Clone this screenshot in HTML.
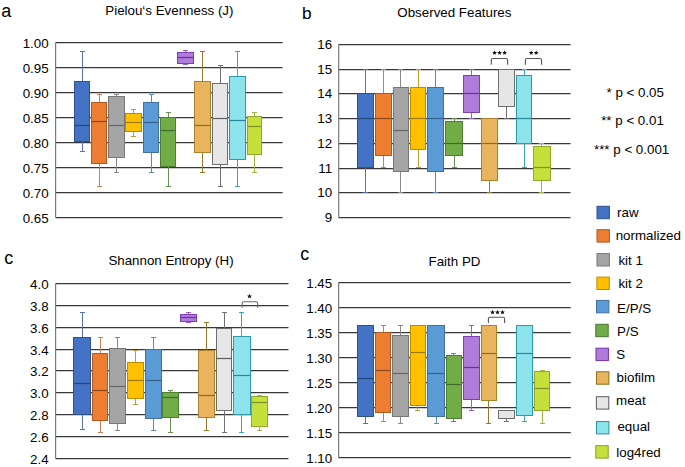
<!DOCTYPE html>
<html><head><meta charset="utf-8"><style>
html,body{margin:0;padding:0;background:#fff;width:685px;height:467px;overflow:hidden}
svg{display:block}
text{font-family:"Liberation Sans", sans-serif}
</style></head><body>
<svg width="685" height="467" viewBox="0 0 685 467" font-family='"Liberation Sans", sans-serif'>
<rect width="685" height="467" fill="#fff"/>
<line x1="55.6" y1="42.5" x2="282.6" y2="42.5" stroke="#383838" stroke-width="1.25"/>
<line x1="55.6" y1="67.5" x2="282.6" y2="67.5" stroke="#383838" stroke-width="1.25"/>
<line x1="55.6" y1="92.5" x2="282.6" y2="92.5" stroke="#383838" stroke-width="1.25"/>
<line x1="55.6" y1="117.5" x2="282.6" y2="117.5" stroke="#383838" stroke-width="1.25"/>
<line x1="55.6" y1="142.5" x2="282.6" y2="142.5" stroke="#383838" stroke-width="1.25"/>
<line x1="55.6" y1="167.5" x2="282.6" y2="167.5" stroke="#383838" stroke-width="1.25"/>
<line x1="55.6" y1="192.5" x2="282.6" y2="192.5" stroke="#383838" stroke-width="1.25"/>
<line x1="55.6" y1="217.5" x2="282.6" y2="217.5" stroke="#383838" stroke-width="1.25"/>
<line x1="55.6" y1="42.5" x2="55.6" y2="217.5" stroke="#7a7a7a" stroke-width="1.2"/>
<text x="48.6" y="47.8" font-size="13.33" text-anchor="end" fill="#000">1.00</text>
<text x="48.6" y="72.8" font-size="13.33" text-anchor="end" fill="#000">0.95</text>
<text x="48.6" y="97.8" font-size="13.33" text-anchor="end" fill="#000">0.90</text>
<text x="48.6" y="122.8" font-size="13.33" text-anchor="end" fill="#000">0.85</text>
<text x="48.6" y="147.8" font-size="13.33" text-anchor="end" fill="#000">0.80</text>
<text x="48.6" y="172.8" font-size="13.33" text-anchor="end" fill="#000">0.75</text>
<text x="48.6" y="197.8" font-size="13.33" text-anchor="end" fill="#000">0.70</text>
<text x="48.6" y="222.8" font-size="13.33" text-anchor="end" fill="#000">0.65</text>
<line x1="82.5" y1="51.5" x2="82.5" y2="81.5" stroke="#5873a8" stroke-width="1"/>
<line x1="80.0" y1="51.5" x2="85.0" y2="51.5" stroke="#5873a8" stroke-width="1"/>
<line x1="82.5" y1="141.5" x2="82.5" y2="151.5" stroke="#5873a8" stroke-width="1"/>
<line x1="80.0" y1="151.5" x2="85.0" y2="151.5" stroke="#5873a8" stroke-width="1"/>
<rect x="74.5" y="81.5" width="15" height="60" fill="#4472C4" stroke="#2F528F" stroke-width="1"/>
<line x1="74.5" y1="125.5" x2="89.5" y2="125.5" stroke="#24467f" stroke-width="1.2"/>
<line x1="99.5" y1="94.5" x2="99.5" y2="102.5" stroke="#c3835c" stroke-width="1"/>
<line x1="97.0" y1="94.5" x2="102.0" y2="94.5" stroke="#c3835c" stroke-width="1"/>
<line x1="99.5" y1="163.5" x2="99.5" y2="186.5" stroke="#c3835c" stroke-width="1"/>
<line x1="97.0" y1="186.5" x2="102.0" y2="186.5" stroke="#c3835c" stroke-width="1"/>
<rect x="91.5" y="102.5" width="15" height="61" fill="#ED7D31" stroke="#AE5A21" stroke-width="1"/>
<line x1="91.5" y1="121.5" x2="106.5" y2="121.5" stroke="#8e4818" stroke-width="1.2"/>
<line x1="116.5" y1="94.5" x2="116.5" y2="96.5" stroke="#888888" stroke-width="1"/>
<line x1="114.0" y1="94.5" x2="119.0" y2="94.5" stroke="#888888" stroke-width="1"/>
<line x1="116.5" y1="157.5" x2="116.5" y2="172.5" stroke="#888888" stroke-width="1"/>
<line x1="114.0" y1="172.5" x2="119.0" y2="172.5" stroke="#888888" stroke-width="1"/>
<rect x="108.5" y="96.5" width="16" height="61" fill="#A5A5A5" stroke="#787878" stroke-width="1"/>
<line x1="108.5" y1="125.5" x2="124.5" y2="125.5" stroke="#666666" stroke-width="1.2"/>
<line x1="133.5" y1="109.5" x2="133.5" y2="113.5" stroke="#c49a2a" stroke-width="1"/>
<line x1="131.0" y1="109.5" x2="136.0" y2="109.5" stroke="#c49a2a" stroke-width="1"/>
<line x1="133.5" y1="131.5" x2="133.5" y2="136.5" stroke="#c49a2a" stroke-width="1"/>
<line x1="131.0" y1="136.5" x2="136.0" y2="136.5" stroke="#c49a2a" stroke-width="1"/>
<rect x="125.5" y="113.5" width="16" height="18" fill="#FFC000" stroke="#BC8C00" stroke-width="1"/>
<line x1="125.5" y1="122.5" x2="141.5" y2="122.5" stroke="#a07800" stroke-width="1.2"/>
<line x1="151.5" y1="94.5" x2="151.5" y2="102.5" stroke="#5a88b8" stroke-width="1"/>
<line x1="149.0" y1="94.5" x2="154.0" y2="94.5" stroke="#5a88b8" stroke-width="1"/>
<line x1="151.5" y1="152.5" x2="151.5" y2="172.5" stroke="#5a88b8" stroke-width="1"/>
<line x1="149.0" y1="172.5" x2="154.0" y2="172.5" stroke="#5a88b8" stroke-width="1"/>
<rect x="143.5" y="102.5" width="15" height="50" fill="#5B9BD5" stroke="#41719C" stroke-width="1"/>
<line x1="143.5" y1="122.5" x2="158.5" y2="122.5" stroke="#33628e" stroke-width="1.2"/>
<line x1="168.5" y1="112.5" x2="168.5" y2="117.5" stroke="#6b8e52" stroke-width="1"/>
<line x1="166.0" y1="112.5" x2="171.0" y2="112.5" stroke="#6b8e52" stroke-width="1"/>
<line x1="168.5" y1="166.5" x2="168.5" y2="186.5" stroke="#6b8e52" stroke-width="1"/>
<line x1="166.0" y1="186.5" x2="171.0" y2="186.5" stroke="#6b8e52" stroke-width="1"/>
<rect x="160.5" y="117.5" width="15" height="49" fill="#70AD47" stroke="#507E32" stroke-width="1"/>
<line x1="160.5" y1="130.5" x2="175.5" y2="130.5" stroke="#3f6a28" stroke-width="1.2"/>
<line x1="185.5" y1="50.5" x2="185.5" y2="52.5" stroke="#9a5ad0" stroke-width="1"/>
<line x1="183.0" y1="50.5" x2="188.0" y2="50.5" stroke="#9a5ad0" stroke-width="1"/>
<line x1="185.5" y1="63.5" x2="185.5" y2="64.5" stroke="#9a5ad0" stroke-width="1"/>
<line x1="183.0" y1="64.5" x2="188.0" y2="64.5" stroke="#9a5ad0" stroke-width="1"/>
<rect x="177.5" y="52.5" width="16" height="11" fill="#B07CDA" stroke="#7E3FB4" stroke-width="1"/>
<line x1="177.5" y1="57.5" x2="193.5" y2="57.5" stroke="#6a30a0" stroke-width="1.2"/>
<line x1="202.5" y1="51.5" x2="202.5" y2="81.5" stroke="#98782a" stroke-width="1"/>
<line x1="200.0" y1="51.5" x2="205.0" y2="51.5" stroke="#98782a" stroke-width="1"/>
<line x1="202.5" y1="152.5" x2="202.5" y2="172.5" stroke="#98782a" stroke-width="1"/>
<line x1="200.0" y1="172.5" x2="205.0" y2="172.5" stroke="#98782a" stroke-width="1"/>
<rect x="194.5" y="81.5" width="16" height="71" fill="#E8B55E" stroke="#A8832A" stroke-width="1"/>
<line x1="194.5" y1="125.5" x2="210.5" y2="125.5" stroke="#8e6c1e" stroke-width="1.2"/>
<line x1="220.5" y1="65.5" x2="220.5" y2="83.5" stroke="#707070" stroke-width="1"/>
<line x1="218.0" y1="65.5" x2="223.0" y2="65.5" stroke="#707070" stroke-width="1"/>
<line x1="220.5" y1="164.5" x2="220.5" y2="186.5" stroke="#707070" stroke-width="1"/>
<line x1="218.0" y1="186.5" x2="223.0" y2="186.5" stroke="#707070" stroke-width="1"/>
<rect x="212.5" y="83.5" width="15" height="81" fill="#E6E6E6" stroke="#6E6E6E" stroke-width="1"/>
<line x1="212.5" y1="118.5" x2="227.5" y2="118.5" stroke="#606060" stroke-width="1.2"/>
<line x1="237.5" y1="51.5" x2="237.5" y2="76.5" stroke="#3fa6b6" stroke-width="1"/>
<line x1="235.0" y1="51.5" x2="240.0" y2="51.5" stroke="#3fa6b6" stroke-width="1"/>
<line x1="237.5" y1="159.5" x2="237.5" y2="186.5" stroke="#3fa6b6" stroke-width="1"/>
<line x1="235.0" y1="186.5" x2="240.0" y2="186.5" stroke="#3fa6b6" stroke-width="1"/>
<rect x="229.5" y="76.5" width="16" height="83" fill="#8DE3EB" stroke="#2E9AA8" stroke-width="1"/>
<line x1="229.5" y1="120.5" x2="245.5" y2="120.5" stroke="#23899a" stroke-width="1.2"/>
<line x1="254.5" y1="112.5" x2="254.5" y2="116.5" stroke="#a3b445" stroke-width="1"/>
<line x1="252.0" y1="112.5" x2="257.0" y2="112.5" stroke="#a3b445" stroke-width="1"/>
<line x1="254.5" y1="154.5" x2="254.5" y2="172.5" stroke="#a3b445" stroke-width="1"/>
<line x1="252.0" y1="172.5" x2="257.0" y2="172.5" stroke="#a3b445" stroke-width="1"/>
<rect x="247.5" y="116.5" width="14" height="38" fill="#C5E03A" stroke="#93A72A" stroke-width="1"/>
<line x1="247.5" y1="126.5" x2="261.5" y2="126.5" stroke="#7f9220" stroke-width="1.2"/>
<line x1="338.7" y1="44.5" x2="570.5" y2="44.5" stroke="#383838" stroke-width="1.25"/>
<line x1="338.7" y1="69.5" x2="570.5" y2="69.5" stroke="#383838" stroke-width="1.25"/>
<line x1="338.7" y1="93.5" x2="570.5" y2="93.5" stroke="#383838" stroke-width="1.25"/>
<line x1="338.7" y1="118.5" x2="570.5" y2="118.5" stroke="#383838" stroke-width="1.25"/>
<line x1="338.7" y1="143.5" x2="570.5" y2="143.5" stroke="#383838" stroke-width="1.25"/>
<line x1="338.7" y1="168.5" x2="570.5" y2="168.5" stroke="#383838" stroke-width="1.25"/>
<line x1="338.7" y1="192.5" x2="570.5" y2="192.5" stroke="#383838" stroke-width="1.25"/>
<line x1="338.7" y1="217.5" x2="570.5" y2="217.5" stroke="#383838" stroke-width="1.25"/>
<line x1="338.7" y1="44.5" x2="338.7" y2="217.5" stroke="#7a7a7a" stroke-width="1.2"/>
<text x="332.2" y="49.0" font-size="13.33" text-anchor="end" fill="#000">16</text>
<text x="332.2" y="74.0" font-size="13.33" text-anchor="end" fill="#000">15</text>
<text x="332.2" y="98.0" font-size="13.33" text-anchor="end" fill="#000">14</text>
<text x="332.2" y="123.0" font-size="13.33" text-anchor="end" fill="#000">13</text>
<text x="332.2" y="148.0" font-size="13.33" text-anchor="end" fill="#000">12</text>
<text x="332.2" y="173.0" font-size="13.33" text-anchor="end" fill="#000">11</text>
<text x="332.2" y="197.0" font-size="13.33" text-anchor="end" fill="#000">10</text>
<text x="332.2" y="222.0" font-size="13.33" text-anchor="end" fill="#000">9</text>
<line x1="365.5" y1="69.5" x2="365.5" y2="93.5" stroke="#5873a8" stroke-width="1"/>
<line x1="363.0" y1="69.5" x2="368.0" y2="69.5" stroke="#5873a8" stroke-width="1"/>
<line x1="365.5" y1="167.5" x2="365.5" y2="192.5" stroke="#5873a8" stroke-width="1"/>
<line x1="363.0" y1="192.5" x2="368.0" y2="192.5" stroke="#5873a8" stroke-width="1"/>
<rect x="357.5" y="93.5" width="16" height="74" fill="#4472C4" stroke="#2F528F" stroke-width="1"/>
<line x1="357.5" y1="118.5" x2="373.5" y2="118.5" stroke="#24467f" stroke-width="1.2"/>
<line x1="383.5" y1="69.5" x2="383.5" y2="93.5" stroke="#c3835c" stroke-width="1"/>
<line x1="381.0" y1="69.5" x2="386.0" y2="69.5" stroke="#c3835c" stroke-width="1"/>
<line x1="383.5" y1="155.5" x2="383.5" y2="167.5" stroke="#c3835c" stroke-width="1"/>
<line x1="381.0" y1="167.5" x2="386.0" y2="167.5" stroke="#c3835c" stroke-width="1"/>
<rect x="375.5" y="93.5" width="16" height="62" fill="#ED7D31" stroke="#AE5A21" stroke-width="1"/>
<line x1="375.5" y1="118.5" x2="391.5" y2="118.5" stroke="#8e4818" stroke-width="1.2"/>
<line x1="400.5" y1="69.5" x2="400.5" y2="87.5" stroke="#888888" stroke-width="1"/>
<line x1="398.0" y1="69.5" x2="403.0" y2="69.5" stroke="#888888" stroke-width="1"/>
<line x1="400.5" y1="171.5" x2="400.5" y2="192.5" stroke="#888888" stroke-width="1"/>
<line x1="398.0" y1="192.5" x2="403.0" y2="192.5" stroke="#888888" stroke-width="1"/>
<rect x="393.5" y="87.5" width="15" height="84" fill="#A5A5A5" stroke="#787878" stroke-width="1"/>
<line x1="393.5" y1="130.5" x2="408.5" y2="130.5" stroke="#666666" stroke-width="1.2"/>
<line x1="418.5" y1="69.5" x2="418.5" y2="87.5" stroke="#c49a2a" stroke-width="1"/>
<line x1="416.0" y1="69.5" x2="421.0" y2="69.5" stroke="#c49a2a" stroke-width="1"/>
<line x1="418.5" y1="149.5" x2="418.5" y2="167.5" stroke="#c49a2a" stroke-width="1"/>
<line x1="416.0" y1="167.5" x2="421.0" y2="167.5" stroke="#c49a2a" stroke-width="1"/>
<rect x="410.5" y="87.5" width="15" height="62" fill="#FFC000" stroke="#BC8C00" stroke-width="1"/>
<line x1="410.5" y1="118.5" x2="425.5" y2="118.5" stroke="#a07800" stroke-width="1.2"/>
<line x1="435.5" y1="69.5" x2="435.5" y2="87.5" stroke="#5a88b8" stroke-width="1"/>
<line x1="433.0" y1="69.5" x2="438.0" y2="69.5" stroke="#5a88b8" stroke-width="1"/>
<line x1="435.5" y1="171.5" x2="435.5" y2="192.5" stroke="#5a88b8" stroke-width="1"/>
<line x1="433.0" y1="192.5" x2="438.0" y2="192.5" stroke="#5a88b8" stroke-width="1"/>
<rect x="427.5" y="87.5" width="16" height="84" fill="#5B9BD5" stroke="#41719C" stroke-width="1"/>
<line x1="427.5" y1="118.5" x2="443.5" y2="118.5" stroke="#33628e" stroke-width="1.2"/>
<line x1="454.5" y1="118.5" x2="454.5" y2="121.5" stroke="#6b8e52" stroke-width="1"/>
<line x1="452.0" y1="118.5" x2="457.0" y2="118.5" stroke="#6b8e52" stroke-width="1"/>
<line x1="454.5" y1="155.5" x2="454.5" y2="167.5" stroke="#6b8e52" stroke-width="1"/>
<line x1="452.0" y1="167.5" x2="457.0" y2="167.5" stroke="#6b8e52" stroke-width="1"/>
<rect x="445.5" y="121.5" width="17" height="34" fill="#70AD47" stroke="#507E32" stroke-width="1"/>
<line x1="445.5" y1="143.5" x2="462.5" y2="143.5" stroke="#3f6a28" stroke-width="1.2"/>
<line x1="471.5" y1="69.5" x2="471.5" y2="75.5" stroke="#9a5ad0" stroke-width="1"/>
<line x1="469.0" y1="69.5" x2="474.0" y2="69.5" stroke="#9a5ad0" stroke-width="1"/>
<line x1="471.5" y1="112.5" x2="471.5" y2="118.5" stroke="#9a5ad0" stroke-width="1"/>
<line x1="469.0" y1="118.5" x2="474.0" y2="118.5" stroke="#9a5ad0" stroke-width="1"/>
<rect x="463.5" y="75.5" width="16" height="37" fill="#B07CDA" stroke="#7E3FB4" stroke-width="1"/>
<line x1="463.5" y1="93.5" x2="479.5" y2="93.5" stroke="#6a30a0" stroke-width="1.2"/>
<line x1="489.5" y1="180.5" x2="489.5" y2="192.5" stroke="#98782a" stroke-width="1"/>
<line x1="487.0" y1="192.5" x2="492.0" y2="192.5" stroke="#98782a" stroke-width="1"/>
<rect x="481.5" y="118.5" width="16" height="62" fill="#E8B55E" stroke="#A8832A" stroke-width="1"/>
<line x1="481.5" y1="143.5" x2="497.5" y2="143.5" stroke="#8e6c1e" stroke-width="1.2"/>
<line x1="506.5" y1="106.5" x2="506.5" y2="118.5" stroke="#707070" stroke-width="1"/>
<line x1="504.0" y1="118.5" x2="509.0" y2="118.5" stroke="#707070" stroke-width="1"/>
<rect x="498.5" y="69.5" width="16" height="37" fill="#E6E6E6" stroke="#6E6E6E" stroke-width="1"/>
<line x1="524.5" y1="69.5" x2="524.5" y2="75.5" stroke="#3fa6b6" stroke-width="1"/>
<line x1="522.0" y1="69.5" x2="527.0" y2="69.5" stroke="#3fa6b6" stroke-width="1"/>
<line x1="524.5" y1="143.5" x2="524.5" y2="167.5" stroke="#3fa6b6" stroke-width="1"/>
<line x1="522.0" y1="167.5" x2="527.0" y2="167.5" stroke="#3fa6b6" stroke-width="1"/>
<rect x="516.5" y="75.5" width="15" height="68" fill="#8DE3EB" stroke="#2E9AA8" stroke-width="1"/>
<line x1="516.5" y1="118.5" x2="531.5" y2="118.5" stroke="#23899a" stroke-width="1.2"/>
<line x1="541.5" y1="143.5" x2="541.5" y2="146.5" stroke="#a3b445" stroke-width="1"/>
<line x1="539.0" y1="143.5" x2="544.0" y2="143.5" stroke="#a3b445" stroke-width="1"/>
<line x1="541.5" y1="180.5" x2="541.5" y2="192.5" stroke="#a3b445" stroke-width="1"/>
<line x1="539.0" y1="192.5" x2="544.0" y2="192.5" stroke="#a3b445" stroke-width="1"/>
<rect x="533.5" y="146.5" width="17" height="34" fill="#C5E03A" stroke="#93A72A" stroke-width="1"/>
<line x1="533.5" y1="167.5" x2="550.5" y2="167.5" stroke="#7f9220" stroke-width="1.2"/>
<line x1="55.6" y1="283.5" x2="288.5" y2="283.5" stroke="#383838" stroke-width="1.25"/>
<line x1="55.6" y1="305.5" x2="288.5" y2="305.5" stroke="#383838" stroke-width="1.25"/>
<line x1="55.6" y1="327.5" x2="288.5" y2="327.5" stroke="#383838" stroke-width="1.25"/>
<line x1="55.6" y1="349.5" x2="288.5" y2="349.5" stroke="#383838" stroke-width="1.25"/>
<line x1="55.6" y1="370.5" x2="288.5" y2="370.5" stroke="#383838" stroke-width="1.25"/>
<line x1="55.6" y1="392.5" x2="288.5" y2="392.5" stroke="#383838" stroke-width="1.25"/>
<line x1="55.6" y1="414.5" x2="288.5" y2="414.5" stroke="#383838" stroke-width="1.25"/>
<line x1="55.6" y1="436.5" x2="288.5" y2="436.5" stroke="#383838" stroke-width="1.25"/>
<line x1="55.6" y1="458.5" x2="288.5" y2="458.5" stroke="#383838" stroke-width="1.25"/>
<line x1="55.6" y1="283.5" x2="55.6" y2="458.5" stroke="#7a7a7a" stroke-width="1.2"/>
<text x="48.6" y="288.8" font-size="13.33" text-anchor="end" fill="#000">4.0</text>
<text x="48.6" y="310.8" font-size="13.33" text-anchor="end" fill="#000">3.8</text>
<text x="48.6" y="332.8" font-size="13.33" text-anchor="end" fill="#000">3.6</text>
<text x="48.6" y="354.8" font-size="13.33" text-anchor="end" fill="#000">3.4</text>
<text x="48.6" y="375.8" font-size="13.33" text-anchor="end" fill="#000">3.2</text>
<text x="48.6" y="397.8" font-size="13.33" text-anchor="end" fill="#000">3.0</text>
<text x="48.6" y="419.8" font-size="13.33" text-anchor="end" fill="#000">2.8</text>
<text x="48.6" y="441.8" font-size="13.33" text-anchor="end" fill="#000">2.6</text>
<text x="48.6" y="463.8" font-size="13.33" text-anchor="end" fill="#000">2.4</text>
<line x1="82.5" y1="312.5" x2="82.5" y2="337.5" stroke="#5873a8" stroke-width="1"/>
<line x1="80.0" y1="312.5" x2="85.0" y2="312.5" stroke="#5873a8" stroke-width="1"/>
<line x1="82.5" y1="414.5" x2="82.5" y2="429.5" stroke="#5873a8" stroke-width="1"/>
<line x1="80.0" y1="429.5" x2="85.0" y2="429.5" stroke="#5873a8" stroke-width="1"/>
<rect x="73.5" y="337.5" width="17" height="77" fill="#4472C4" stroke="#2F528F" stroke-width="1"/>
<line x1="73.5" y1="383.5" x2="90.5" y2="383.5" stroke="#24467f" stroke-width="1.2"/>
<line x1="100.5" y1="337.5" x2="100.5" y2="353.5" stroke="#c3835c" stroke-width="1"/>
<line x1="98.0" y1="337.5" x2="103.0" y2="337.5" stroke="#c3835c" stroke-width="1"/>
<line x1="100.5" y1="420.5" x2="100.5" y2="432.5" stroke="#c3835c" stroke-width="1"/>
<line x1="98.0" y1="432.5" x2="103.0" y2="432.5" stroke="#c3835c" stroke-width="1"/>
<rect x="92.5" y="353.5" width="15" height="67" fill="#ED7D31" stroke="#AE5A21" stroke-width="1"/>
<line x1="92.5" y1="390.5" x2="107.5" y2="390.5" stroke="#8e4818" stroke-width="1.2"/>
<line x1="117.5" y1="337.5" x2="117.5" y2="348.5" stroke="#888888" stroke-width="1"/>
<line x1="115.0" y1="337.5" x2="120.0" y2="337.5" stroke="#888888" stroke-width="1"/>
<line x1="117.5" y1="423.5" x2="117.5" y2="430.5" stroke="#888888" stroke-width="1"/>
<line x1="115.0" y1="430.5" x2="120.0" y2="430.5" stroke="#888888" stroke-width="1"/>
<rect x="109.5" y="348.5" width="16" height="75" fill="#A5A5A5" stroke="#787878" stroke-width="1"/>
<line x1="109.5" y1="386.5" x2="125.5" y2="386.5" stroke="#666666" stroke-width="1.2"/>
<line x1="135.5" y1="350.5" x2="135.5" y2="362.5" stroke="#c49a2a" stroke-width="1"/>
<line x1="133.0" y1="350.5" x2="138.0" y2="350.5" stroke="#c49a2a" stroke-width="1"/>
<line x1="135.5" y1="398.5" x2="135.5" y2="404.5" stroke="#c49a2a" stroke-width="1"/>
<line x1="133.0" y1="404.5" x2="138.0" y2="404.5" stroke="#c49a2a" stroke-width="1"/>
<rect x="127.5" y="362.5" width="16" height="36" fill="#FFC000" stroke="#BC8C00" stroke-width="1"/>
<line x1="127.5" y1="380.5" x2="143.5" y2="380.5" stroke="#a07800" stroke-width="1.2"/>
<line x1="153.5" y1="337.5" x2="153.5" y2="349.5" stroke="#5a88b8" stroke-width="1"/>
<line x1="151.0" y1="337.5" x2="156.0" y2="337.5" stroke="#5a88b8" stroke-width="1"/>
<line x1="153.5" y1="418.5" x2="153.5" y2="430.5" stroke="#5a88b8" stroke-width="1"/>
<line x1="151.0" y1="430.5" x2="156.0" y2="430.5" stroke="#5a88b8" stroke-width="1"/>
<rect x="145.5" y="349.5" width="16" height="69" fill="#5B9BD5" stroke="#41719C" stroke-width="1"/>
<line x1="145.5" y1="380.5" x2="161.5" y2="380.5" stroke="#33628e" stroke-width="1.2"/>
<line x1="170.5" y1="390.5" x2="170.5" y2="392.5" stroke="#6b8e52" stroke-width="1"/>
<line x1="168.0" y1="390.5" x2="173.0" y2="390.5" stroke="#6b8e52" stroke-width="1"/>
<line x1="170.5" y1="417.5" x2="170.5" y2="432.5" stroke="#6b8e52" stroke-width="1"/>
<line x1="168.0" y1="432.5" x2="173.0" y2="432.5" stroke="#6b8e52" stroke-width="1"/>
<rect x="162.5" y="392.5" width="16" height="25" fill="#70AD47" stroke="#507E32" stroke-width="1"/>
<line x1="162.5" y1="397.5" x2="178.5" y2="397.5" stroke="#3f6a28" stroke-width="1.2"/>
<line x1="188.5" y1="312.5" x2="188.5" y2="314.5" stroke="#9a5ad0" stroke-width="1"/>
<line x1="186.0" y1="312.5" x2="191.0" y2="312.5" stroke="#9a5ad0" stroke-width="1"/>
<line x1="188.5" y1="321.5" x2="188.5" y2="322.5" stroke="#9a5ad0" stroke-width="1"/>
<line x1="186.0" y1="322.5" x2="191.0" y2="322.5" stroke="#9a5ad0" stroke-width="1"/>
<rect x="180.5" y="314.5" width="16" height="7" fill="#B07CDA" stroke="#7E3FB4" stroke-width="1"/>
<line x1="180.5" y1="317.5" x2="196.5" y2="317.5" stroke="#6a30a0" stroke-width="1.2"/>
<line x1="206.5" y1="322.5" x2="206.5" y2="350.5" stroke="#98782a" stroke-width="1"/>
<line x1="204.0" y1="322.5" x2="209.0" y2="322.5" stroke="#98782a" stroke-width="1"/>
<line x1="206.5" y1="417.5" x2="206.5" y2="430.5" stroke="#98782a" stroke-width="1"/>
<line x1="204.0" y1="430.5" x2="209.0" y2="430.5" stroke="#98782a" stroke-width="1"/>
<rect x="198.5" y="350.5" width="16" height="67" fill="#E8B55E" stroke="#A8832A" stroke-width="1"/>
<line x1="198.5" y1="395.5" x2="214.5" y2="395.5" stroke="#8e6c1e" stroke-width="1.2"/>
<line x1="224.5" y1="312.5" x2="224.5" y2="328.5" stroke="#707070" stroke-width="1"/>
<line x1="222.0" y1="312.5" x2="227.0" y2="312.5" stroke="#707070" stroke-width="1"/>
<line x1="224.5" y1="410.5" x2="224.5" y2="432.5" stroke="#707070" stroke-width="1"/>
<line x1="222.0" y1="432.5" x2="227.0" y2="432.5" stroke="#707070" stroke-width="1"/>
<rect x="216.5" y="328.5" width="15" height="82" fill="#E6E6E6" stroke="#6E6E6E" stroke-width="1"/>
<line x1="216.5" y1="358.5" x2="231.5" y2="358.5" stroke="#606060" stroke-width="1.2"/>
<line x1="241.5" y1="312.5" x2="241.5" y2="336.5" stroke="#3fa6b6" stroke-width="1"/>
<line x1="239.0" y1="312.5" x2="244.0" y2="312.5" stroke="#3fa6b6" stroke-width="1"/>
<line x1="241.5" y1="414.5" x2="241.5" y2="432.5" stroke="#3fa6b6" stroke-width="1"/>
<line x1="239.0" y1="432.5" x2="244.0" y2="432.5" stroke="#3fa6b6" stroke-width="1"/>
<rect x="233.5" y="336.5" width="17" height="78" fill="#8DE3EB" stroke="#2E9AA8" stroke-width="1"/>
<line x1="233.5" y1="375.5" x2="250.5" y2="375.5" stroke="#23899a" stroke-width="1.2"/>
<line x1="259.5" y1="395.5" x2="259.5" y2="396.5" stroke="#a3b445" stroke-width="1"/>
<line x1="257.0" y1="395.5" x2="262.0" y2="395.5" stroke="#a3b445" stroke-width="1"/>
<line x1="259.5" y1="426.5" x2="259.5" y2="430.5" stroke="#a3b445" stroke-width="1"/>
<line x1="257.0" y1="430.5" x2="262.0" y2="430.5" stroke="#a3b445" stroke-width="1"/>
<rect x="251.5" y="396.5" width="16" height="30" fill="#C5E03A" stroke="#93A72A" stroke-width="1"/>
<line x1="251.5" y1="402.5" x2="267.5" y2="402.5" stroke="#7f9220" stroke-width="1.2"/>
<line x1="338.6" y1="282.5" x2="570.8" y2="282.5" stroke="#383838" stroke-width="1.25"/>
<line x1="338.6" y1="307.5" x2="570.8" y2="307.5" stroke="#383838" stroke-width="1.25"/>
<line x1="338.6" y1="332.5" x2="570.8" y2="332.5" stroke="#383838" stroke-width="1.25"/>
<line x1="338.6" y1="357.5" x2="570.8" y2="357.5" stroke="#383838" stroke-width="1.25"/>
<line x1="338.6" y1="382.5" x2="570.8" y2="382.5" stroke="#383838" stroke-width="1.25"/>
<line x1="338.6" y1="407.5" x2="570.8" y2="407.5" stroke="#383838" stroke-width="1.25"/>
<line x1="338.6" y1="432.5" x2="570.8" y2="432.5" stroke="#383838" stroke-width="1.25"/>
<line x1="338.6" y1="457.5" x2="570.8" y2="457.5" stroke="#383838" stroke-width="1.25"/>
<line x1="338.6" y1="282.5" x2="338.6" y2="457.5" stroke="#7a7a7a" stroke-width="1.2"/>
<text x="332.2" y="287.8" font-size="13.33" text-anchor="end" fill="#000">1.45</text>
<text x="332.2" y="312.8" font-size="13.33" text-anchor="end" fill="#000">1.40</text>
<text x="332.2" y="337.8" font-size="13.33" text-anchor="end" fill="#000">1.35</text>
<text x="332.2" y="362.8" font-size="13.33" text-anchor="end" fill="#000">1.30</text>
<text x="332.2" y="387.8" font-size="13.33" text-anchor="end" fill="#000">1.25</text>
<text x="332.2" y="412.8" font-size="13.33" text-anchor="end" fill="#000">1.20</text>
<text x="332.2" y="437.8" font-size="13.33" text-anchor="end" fill="#000">1.15</text>
<text x="332.2" y="462.8" font-size="13.33" text-anchor="end" fill="#000">1.10</text>
<line x1="365.5" y1="416.5" x2="365.5" y2="423.5" stroke="#5873a8" stroke-width="1"/>
<line x1="363.0" y1="423.5" x2="368.0" y2="423.5" stroke="#5873a8" stroke-width="1"/>
<rect x="357.5" y="325.5" width="16" height="91" fill="#4472C4" stroke="#2F528F" stroke-width="1"/>
<line x1="357.5" y1="378.5" x2="373.5" y2="378.5" stroke="#24467f" stroke-width="1.2"/>
<line x1="383.5" y1="325.5" x2="383.5" y2="332.5" stroke="#c3835c" stroke-width="1"/>
<line x1="381.0" y1="325.5" x2="386.0" y2="325.5" stroke="#c3835c" stroke-width="1"/>
<line x1="383.5" y1="412.5" x2="383.5" y2="421.5" stroke="#c3835c" stroke-width="1"/>
<line x1="381.0" y1="421.5" x2="386.0" y2="421.5" stroke="#c3835c" stroke-width="1"/>
<rect x="375.5" y="332.5" width="15" height="80" fill="#ED7D31" stroke="#AE5A21" stroke-width="1"/>
<line x1="375.5" y1="370.5" x2="390.5" y2="370.5" stroke="#8e4818" stroke-width="1.2"/>
<line x1="400.5" y1="325.5" x2="400.5" y2="335.5" stroke="#888888" stroke-width="1"/>
<line x1="398.0" y1="325.5" x2="403.0" y2="325.5" stroke="#888888" stroke-width="1"/>
<line x1="400.5" y1="416.5" x2="400.5" y2="423.5" stroke="#888888" stroke-width="1"/>
<line x1="398.0" y1="423.5" x2="403.0" y2="423.5" stroke="#888888" stroke-width="1"/>
<rect x="392.5" y="335.5" width="16" height="81" fill="#A5A5A5" stroke="#787878" stroke-width="1"/>
<line x1="392.5" y1="373.5" x2="408.5" y2="373.5" stroke="#666666" stroke-width="1.2"/>
<line x1="417.5" y1="405.5" x2="417.5" y2="410.5" stroke="#c49a2a" stroke-width="1"/>
<line x1="415.0" y1="410.5" x2="420.0" y2="410.5" stroke="#c49a2a" stroke-width="1"/>
<rect x="410.5" y="325.5" width="15" height="80" fill="#FFC000" stroke="#BC8C00" stroke-width="1"/>
<line x1="410.5" y1="352.5" x2="425.5" y2="352.5" stroke="#a07800" stroke-width="1.2"/>
<line x1="436.5" y1="416.5" x2="436.5" y2="423.5" stroke="#5a88b8" stroke-width="1"/>
<line x1="434.0" y1="423.5" x2="439.0" y2="423.5" stroke="#5a88b8" stroke-width="1"/>
<rect x="427.5" y="325.5" width="17" height="91" fill="#5B9BD5" stroke="#41719C" stroke-width="1"/>
<line x1="427.5" y1="373.5" x2="444.5" y2="373.5" stroke="#33628e" stroke-width="1.2"/>
<line x1="453.5" y1="353.5" x2="453.5" y2="355.5" stroke="#6b8e52" stroke-width="1"/>
<line x1="451.0" y1="353.5" x2="456.0" y2="353.5" stroke="#6b8e52" stroke-width="1"/>
<line x1="453.5" y1="418.5" x2="453.5" y2="421.5" stroke="#6b8e52" stroke-width="1"/>
<line x1="451.0" y1="421.5" x2="456.0" y2="421.5" stroke="#6b8e52" stroke-width="1"/>
<rect x="446.5" y="355.5" width="15" height="63" fill="#70AD47" stroke="#507E32" stroke-width="1"/>
<line x1="446.5" y1="384.5" x2="461.5" y2="384.5" stroke="#3f6a28" stroke-width="1.2"/>
<line x1="471.5" y1="325.5" x2="471.5" y2="336.5" stroke="#9a5ad0" stroke-width="1"/>
<line x1="469.0" y1="325.5" x2="474.0" y2="325.5" stroke="#9a5ad0" stroke-width="1"/>
<line x1="471.5" y1="399.5" x2="471.5" y2="410.5" stroke="#9a5ad0" stroke-width="1"/>
<line x1="469.0" y1="410.5" x2="474.0" y2="410.5" stroke="#9a5ad0" stroke-width="1"/>
<rect x="463.5" y="336.5" width="16" height="63" fill="#B07CDA" stroke="#7E3FB4" stroke-width="1"/>
<line x1="463.5" y1="367.5" x2="479.5" y2="367.5" stroke="#6a30a0" stroke-width="1.2"/>
<line x1="488.5" y1="400.5" x2="488.5" y2="423.5" stroke="#98782a" stroke-width="1"/>
<line x1="486.0" y1="423.5" x2="491.0" y2="423.5" stroke="#98782a" stroke-width="1"/>
<rect x="481.5" y="325.5" width="15" height="75" fill="#E8B55E" stroke="#A8832A" stroke-width="1"/>
<line x1="481.5" y1="353.5" x2="496.5" y2="353.5" stroke="#8e6c1e" stroke-width="1.2"/>
<line x1="506.5" y1="418.5" x2="506.5" y2="421.5" stroke="#707070" stroke-width="1"/>
<line x1="504.0" y1="421.5" x2="509.0" y2="421.5" stroke="#707070" stroke-width="1"/>
<rect x="498.5" y="410.5" width="16" height="8" fill="#E6E6E6" stroke="#6E6E6E" stroke-width="1"/>
<line x1="524.5" y1="415.5" x2="524.5" y2="421.5" stroke="#3fa6b6" stroke-width="1"/>
<line x1="522.0" y1="421.5" x2="527.0" y2="421.5" stroke="#3fa6b6" stroke-width="1"/>
<rect x="516.5" y="325.5" width="16" height="90" fill="#8DE3EB" stroke="#2E9AA8" stroke-width="1"/>
<line x1="516.5" y1="353.5" x2="532.5" y2="353.5" stroke="#23899a" stroke-width="1.2"/>
<line x1="542.5" y1="370.5" x2="542.5" y2="371.5" stroke="#a3b445" stroke-width="1"/>
<line x1="540.0" y1="370.5" x2="545.0" y2="370.5" stroke="#a3b445" stroke-width="1"/>
<line x1="542.5" y1="410.5" x2="542.5" y2="423.5" stroke="#a3b445" stroke-width="1"/>
<line x1="540.0" y1="423.5" x2="545.0" y2="423.5" stroke="#a3b445" stroke-width="1"/>
<rect x="534.5" y="371.5" width="15" height="39" fill="#C5E03A" stroke="#93A72A" stroke-width="1"/>
<line x1="534.5" y1="388.5" x2="549.5" y2="388.5" stroke="#7f9220" stroke-width="1.2"/>
<polygon points="494.60,50.30 495.26,51.89 496.98,52.03 495.67,53.15 496.07,54.82 494.60,53.92 493.13,54.82 493.53,53.15 492.22,52.03 493.94,51.89" fill="#111"/>
<polygon points="499.60,50.30 500.26,51.89 501.98,52.03 500.67,53.15 501.07,54.82 499.60,53.92 498.13,54.82 498.53,53.15 497.22,52.03 498.94,51.89" fill="#111"/>
<polygon points="504.60,50.30 505.26,51.89 506.98,52.03 505.67,53.15 506.07,54.82 504.60,53.92 503.13,54.82 503.53,53.15 502.22,52.03 503.94,51.89" fill="#111"/>
<path d="M491.3 64.8 L491.3 60.0 Q491.3 58.5 492.8 58.5 L506.1 58.5 Q507.6 58.5 507.6 60.0 L507.6 64.8" fill="none" stroke="#555" stroke-width="1.1"/>
<polygon points="531.20,50.30 531.86,51.89 533.58,52.03 532.27,53.15 532.67,54.82 531.20,53.92 529.73,54.82 530.13,53.15 528.82,52.03 530.54,51.89" fill="#111"/>
<polygon points="536.20,50.30 536.86,51.89 538.58,52.03 537.27,53.15 537.67,54.82 536.20,53.92 534.73,54.82 535.13,53.15 533.82,52.03 535.54,51.89" fill="#111"/>
<path d="M525.4 64.8 L525.4 60.0 Q525.4 58.5 526.9 58.5 L540.1 58.5 Q541.6 58.5 541.6 60.0 L541.6 64.8" fill="none" stroke="#555" stroke-width="1.1"/>
<polygon points="249.50,293.80 250.16,295.39 251.88,295.53 250.57,296.65 250.97,298.32 249.50,297.43 248.03,298.32 248.43,296.65 247.12,295.53 248.84,295.39" fill="#111"/>
<path d="M242.2 307.8 L242.2 303.3 Q242.2 301.8 243.7 301.8 L256.1 301.8 Q257.6 301.8 257.6 303.3 L257.6 307.8" fill="none" stroke="#6a6a6a" stroke-width="1.1"/>
<polygon points="492.50,309.80 493.16,311.39 494.88,311.53 493.57,312.65 493.97,314.32 492.50,313.43 491.03,314.32 491.43,312.65 490.12,311.53 491.84,311.39" fill="#111"/>
<polygon points="497.50,309.80 498.16,311.39 499.88,311.53 498.57,312.65 498.97,314.32 497.50,313.43 496.03,314.32 496.43,312.65 495.12,311.53 496.84,311.39" fill="#111"/>
<polygon points="502.50,309.80 503.16,311.39 504.88,311.53 503.57,312.65 503.97,314.32 502.50,313.43 501.03,314.32 501.43,312.65 500.12,311.53 501.84,311.39" fill="#111"/>
<path d="M488.4 323 L488.4 318.8 Q488.4 317.3 489.9 317.3 L503.1 317.3 Q504.6 317.3 504.6 318.8 L504.6 323" fill="none" stroke="#555" stroke-width="1.1"/>
<text x="169.4" y="14.7" font-size="13.33" text-anchor="middle" fill="#000">Pielou‘s Evenness (J)</text>
<text x="454.4" y="17.4" font-size="13.33" text-anchor="middle" fill="#000">Observed Features</text>
<text x="171.0" y="265.4" font-size="13.33" text-anchor="middle" fill="#000">Shannon Entropy (H)</text>
<text x="454.5" y="265.7" font-size="13.33" text-anchor="middle" fill="#000">Faith PD</text>
<text x="1.3" y="17.3" font-size="18" text-anchor="start" fill="#000">a</text>
<text x="301.9" y="19.4" font-size="17.2" text-anchor="start" fill="#000">b</text>
<text x="4.3" y="264.2" font-size="18" text-anchor="start" fill="#000">c</text>
<text x="300.3" y="259.9" font-size="18" text-anchor="start" fill="#000">c</text>
<text x="606.5" y="96.7" font-size="13.33" text-anchor="start" fill="#000">* p &lt; 0.05</text>
<text x="601.2" y="125.4" font-size="13.33" text-anchor="start" fill="#000">** p &lt; 0.01</text>
<text x="594.0" y="153.6" font-size="13.33" text-anchor="start" fill="#000">*** p &lt; 0.001</text>
<rect x="597.0" y="206.3" width="12.4" height="12.4" fill="#4472C4" stroke="#2F528F" stroke-width="1"/>
<text x="617.1" y="216.7" font-size="13.33" text-anchor="start" fill="#000">raw</text>
<rect x="597.0" y="229.7" width="12.4" height="12.4" fill="#ED7D31" stroke="#AE5A21" stroke-width="1"/>
<text x="615.7" y="240.3" font-size="13.33" text-anchor="start" fill="#000">normalized</text>
<rect x="597.0" y="253.6" width="12.4" height="12.4" fill="#A5A5A5" stroke="#787878" stroke-width="1"/>
<text x="618.4" y="264.5" font-size="13.33" text-anchor="start" fill="#000">kit 1</text>
<rect x="596.9" y="277.1" width="12.4" height="12.4" fill="#FFC000" stroke="#BC8C00" stroke-width="1"/>
<text x="618.4" y="287.7" font-size="13.33" text-anchor="start" fill="#000">kit 2</text>
<rect x="596.5" y="300.4" width="12.4" height="12.4" fill="#5B9BD5" stroke="#41719C" stroke-width="1"/>
<text x="617.1" y="312.6" font-size="13.33" text-anchor="start" fill="#000">E/P/S</text>
<rect x="595.8" y="324.3" width="12.4" height="12.4" fill="#70AD47" stroke="#4a7530" stroke-width="1"/>
<text x="617.1" y="335.7" font-size="13.33" text-anchor="start" fill="#000">P/S</text>
<rect x="596.0" y="348.2" width="12.4" height="12.4" fill="#B07CDA" stroke="#7432ad" stroke-width="1"/>
<text x="616.3000000000001" y="359.2" font-size="13.33" text-anchor="start" fill="#000">S</text>
<rect x="596.5" y="371.8" width="12.4" height="12.4" fill="#E8B55E" stroke="#8f6d1c" stroke-width="1"/>
<text x="616.6" y="382.2" font-size="13.33" text-anchor="start" fill="#000">biofilm</text>
<rect x="596.4" y="396.7" width="12.4" height="12.4" fill="#E6E6E6" stroke="#5c5c5c" stroke-width="1"/>
<text x="616.1" y="404.8" font-size="13.33" text-anchor="start" fill="#000">meat</text>
<rect x="596.5" y="421.5" width="12.4" height="12.4" fill="#8DE3EB" stroke="#2a8f9e" stroke-width="1"/>
<text x="617.4" y="431.3" font-size="13.33" text-anchor="start" fill="#000">equal</text>
<rect x="595.8" y="445.7" width="12.4" height="12.4" fill="#C5E03A" stroke="#889c22" stroke-width="1"/>
<text x="616.3000000000001" y="456.6" font-size="13.33" text-anchor="start" fill="#000">log4red</text>
</svg>
</body></html>
